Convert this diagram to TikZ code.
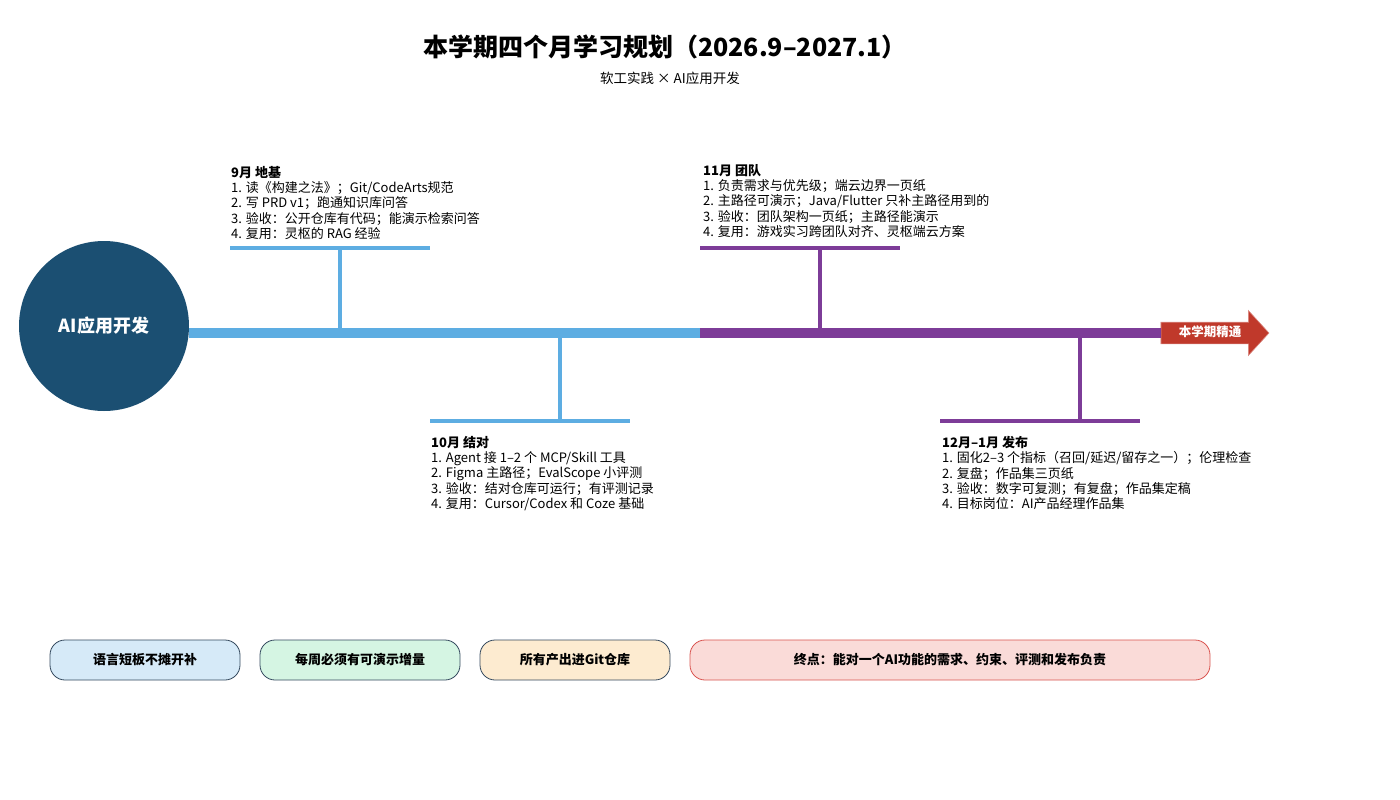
\documentclass[tikz,border=0pt]{standalone}
\usepackage{fontspec}
\setmainfont{Noto Sans CJK SC}
\usepackage{tikz}
\usetikzlibrary{arrows,positioning,calc,shapes.arrows}
\definecolor{navy}{HTML}{1B4F72}
\definecolor{sky}{HTML}{5DADE2}
\definecolor{plum}{HTML}{7D3C98}
\definecolor{brick}{HTML}{C0392B}
\definecolor{slate}{HTML}{34495E}
\definecolor{icefill}{HTML}{D6EAF8}
\definecolor{mintfill}{HTML}{D5F5E3}
\definecolor{sandfill}{HTML}{FDEBD0}
\definecolor{rosefill}{HTML}{FADBD8}
\definecolor{roseline}{HTML}{D9534F}
\tikzstyle{hub}=[circle,fill=navy,minimum size=170pt,inner sep=0pt,text=white,font=\bfseries\fontsize{18}{21}\selectfont]
\tikzstyle{note}=[anchor=north west,inner sep=0pt,align=left,font=\fontsize{13}{15.3}\selectfont]
\tikzstyle{rule}=[rounded corners=15pt,draw=slate,line width=0.8pt,minimum height=40pt,inner sep=0pt,font=\bfseries\fontsize{13}{15}\selectfont]
\tikzstyle{goal}=[single arrow,fill=brick,draw=brick!60!white,line width=0.6pt,minimum height=108pt,text height=10pt,text depth=3pt,inner xsep=0pt,inner ysep=4pt,single arrow head extend=11.5pt,single arrow tip angle=95,text=white,font=\bfseries\fontsize{12.5}{14}\selectfont]

\begin{document}
\begin{tikzpicture}[x=1pt,y=-1pt]
\useasboundingbox (0,0) rectangle (1400,800);
\fill[white] (0,0) rectangle (1400,800);

% title
\node (title) at (665,47) {\bfseries\fontsize{25}{28}\selectfont 本学期四个月学习规划（2026.9–2027.1）};
\node (sub) at (670,78) {\fontsize{13.5}{15}\selectfont 软工实践 × AI应用开发};

% spine
\node [hub] (hub) at (104,326) {AI应用开发};
\node [goal] (goal) at (1210,333) {本学期精通};
\coordinate (mid) at (700,333);
\draw [sky,line width=10pt] (hub.east |- mid) -- (mid);
\draw [plum,line width=10pt] (mid) -- (goal.tail);

% branches
\coordinate (m9) at (340,333);
\coordinate (b9) at (340,248);
\coordinate (m10) at (560,333);
\coordinate (b10) at (560,421);
\coordinate (m11) at (820,333);
\coordinate (b11) at (820,248);
\coordinate (m12) at (1080,333);
\coordinate (b12) at (1080,421);
\draw [sky,line width=4pt] (b9) -- (m9);
\draw [sky,line width=4pt] ($(b9)+(-110,0)$) -- ($(b9)+(90,0)$);
\draw [sky,line width=4pt] (b10) -- (m10);
\draw [sky,line width=4pt] ($(b10)+(-130,0)$) -- ($(b10)+(70,0)$);
\draw [plum,line width=4pt] (b11) -- (m11);
\draw [plum,line width=4pt] ($(b11)+(-120,0)$) -- ($(b11)+(80,0)$);
\draw [plum,line width=4pt] (b12) -- (m12);
\draw [plum,line width=4pt] ($(b12)+(-140,0)$) -- ($(b12)+(60,0)$);

% month notes
\node [note] (n9) at (231,166) {\textbf{9月 地基}\\1. 读《构建之法》；Git/CodeArts规范\\2. 写 PRD v1；跑通知识库问答\\3. 验收：公开仓库有代码；能演示检索问答\\4. 复用：灵枢的 RAG 经验};
\node [note] (n10) at (431,436) {\textbf{10月 结对}\\1. Agent 接 1–2 个 MCP/Skill 工具\\2. Figma 主路径；EvalScope 小评测\\3. 验收：结对仓库可运行；有评测记录\\4. 复用：Cursor/Codex 和 Coze 基础};
\node [note] (n11) at (703,164) {\textbf{11月 团队}\\1. 负责需求与优先级；端云边界一页纸\\2. 主路径可演示；Java/Flutter 只补主路径用到的\\3. 验收：团队架构一页纸；主路径能演示\\4. 复用：游戏实习跨团队对齐、灵枢端云方案};
\node [note] (n12) at (942,436) {\textbf{12月–1月 发布}\\1. 固化2–3 个指标（召回/延迟/留存之一）；伦理检查\\2. 复盘；作品集三页纸\\3. 验收：数字可复测；有复盘；作品集定稿\\4. 目标岗位：AI产品经理作品集};

% rules
\node [rule,fill=icefill,minimum width=190pt] (r1) at (145,660) {语言短板不摊开补};
\node [rule,fill=mintfill,minimum width=200pt] (r2) at (360,660) {每周必须有可演示增量};
\node [rule,fill=sandfill,minimum width=190pt] (r3) at (575,660) {所有产出进Git仓库};
\node [rule,fill=rosefill,draw=roseline,minimum width=520pt] (r4) at (950,660) {终点：能对一个AI功能的需求、约束、评测和发布负责};
\end{tikzpicture}
\end{document}
